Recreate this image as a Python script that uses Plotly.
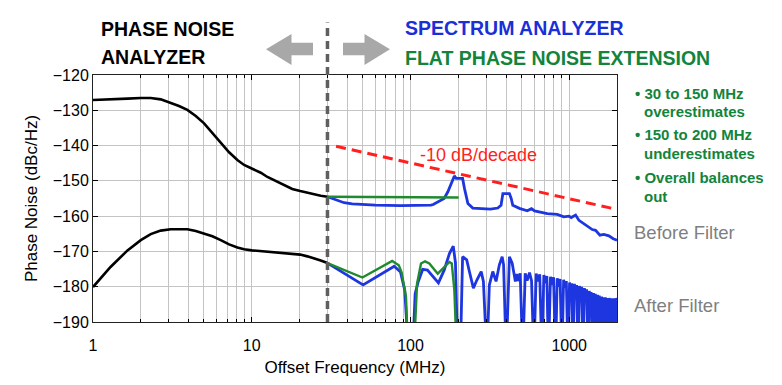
import math
import plotly.graph_objects as go

# ---------------- data ----------------
# Phase noise analyzer (black), offset frequency in MHz
pn_freq = [1.0, 1.29, 1.65, 2.0, 2.31, 2.67, 3.09, 3.48, 3.93, 4.44, 5.01, 5.65,
           6.38, 7.2, 8.12, 8.95, 10.0, 11.4, 12.55, 14.2, 16.0, 18.0, 20.2,
           22.4, 24.7, 27.2, 30.0]
pn_before = [-127.1, -127.0, -126.7, -126.5, -126.5, -126.9, -127.9, -128.8,
             -129.9, -131.6, -133.7, -136.4, -139.2, -141.9, -144.1, -145.5,
             -146.5, -147.7, -148.9, -150.1, -151.3, -152.3, -152.9, -153.4,
             -153.8, -154.2, -154.5]
pn_after = [-180.1, -174.4, -169.7, -166.8, -165.1, -164.1, -163.7, -163.6,
            -163.7, -164.2, -164.9, -165.7, -166.8, -168.0, -168.9, -169.4,
            -169.7, -169.9, -170.1, -170.3, -170.4, -170.6, -170.9, -171.4,
            -171.9, -172.6, -173.3]

# Spectrum analyzer (blue), before filter
sa_before_freq = [30, 34, 38.2, 43, 48.6, 60, 86.9, 100, 134.7, 139, 163, 172,
                  182, 189, 194, 213, 219, 230, 247, 279, 319, 355, 372, 382,
                  420, 431, 441, 486, 544, 579, 605, 727, 840, 925, 995, 1030,
                  1097, 1152, 1238, 1331, 1397, 1466, 1561, 1653, 1778, 1893,
                  2000]
sa_before = [-154.5, -155.4, -156.2, -156.5, -156.7, -156.9, -157.0, -157.0,
             -156.9, -156.7, -155.0, -153.1, -150.3, -148.6, -149.3, -149.3,
             -152.2, -156.4, -157.7, -157.8, -158.0, -157.7, -156.9, -153.6,
             -153.6, -155.0, -156.9, -157.8, -158.5, -157.9, -158.5, -159.3,
             -159.5, -160.2, -160.0, -160.4, -159.7, -161.2, -162.1, -163.1,
             -163.8, -164.0, -165.4, -165.2, -165.6, -166.4, -166.8]

# Spectrum analyzer (blue), after filter (values of -200 = deep nulls below the axis)
sa_after_freq = [30, 50.3, 79, 86.5, 92, 97.6, 103, 107, 112, 119.4, 128, 138,
                 150, 163, 176, 186, 192, 198.5, 206, 213, 226, 235, 249, 262,
                 279, 288, 303, 314, 330, 346, 363, 378, 386, 401, 420, 437,
                 458, 468, 478, 491, 510, 528, 543, 562, 579, 599, 619, 637,
                 652, 673, 692, 709, 723, 740, 762, 780, 797, 820, 840, 857,
                 876, 900, 922, 940, 959, 982, 1005, 1020, 1036, 1055, 1078,
                 1096, 1114, 1135, 1160, 1178, 1198, 1220, 1246, 1266, 1288,
                 1312, 1337, 1355, 1374, 1397, 1422, 1440, 1460, 1481, 1508,
                 1526, 1546, 1570, 1597, 1617, 1638, 1663, 1690, 1710, 1732,
                 1755, 1783, 1803, 1825, 1849, 1877, 1896, 1918, 1942, 1970,
                 2000]
sa_after = [-173.3, -179.5, -174.2, -175.8, -181.0, -200, -200, -182.0, -178.5,
            -175.1, -175.3, -177.0, -178.9, -175.3, -170.6, -168.5, -173.2,
            -200, -200, -171.5, -172.4, -175.7, -180.4, -178.1, -175.7, -178.5,
            -200, -179.5, -175.7, -178.5, -173.8, -171.5, -173.8, -200, -171.5,
            -173.3, -178.5, -176.4, -178.4, -176.2, -200, -176.2, -178.3,
            -176.0, -178.3, -200, -176.3, -178.5, -176.5, -200, -176.7, -179.0,
            -177.0, -200, -177.2, -179.5, -177.3, -200, -177.6, -180.0, -177.8,
            -200, -178.0, -180.3, -178.4, -200, -178.8, -181.0, -179.0, -200,
            -179.2, -181.5, -179.5, -200, -179.8, -182.0, -180.0, -200, -180.4,
            -182.5, -180.7, -200, -181.2, -183.2, -181.5, -200, -181.8, -183.8,
            -182.0, -200, -182.3, -184.3, -182.5, -200, -182.8, -184.8, -183.0,
            -200, -183.0, -185.0, -183.2, -200, -183.2, -185.2, -183.3, -200,
            -183.3, -185.3, -183.3, -200, -183.3, -184.0]

# Flat phase noise extension (green)
flat_before_freq = [30, 201]
flat_before = [-154.5, -154.7]
flat_after_freq = [30, 49.8, 76.7, 84.4, 88, 93.7, 96.8, 104.7, 110, 116.5,
                   123.5, 131.5, 148.5, 159.7, 176, 182, 189, 196]
flat_after = [-173.3, -177.4, -172.7, -173.9, -176.0, -182.9, -200, -200,
              -179.1, -173.4, -172.8, -173.4, -176.3, -174.9, -173.0, -173.4,
              -181.0, -200]

# -10 dB/decade reference
slope_freq = [34, 2000]
slope_db = [-140.2, -158.1]

boundary_mhz = 30
x_max = 2000

x_tickvals = [1, 10, 100, 1000]
x_ticktext = ["1", "10", "100", "1000"]
x_minor = [m * 10 ** d for d in range(0, 4) for m in range(2, 10) if m * 10 ** d < x_max]
y_tickvals = [-120, -130, -140, -150, -160, -170, -180, -190]

# ---------------- styling ----------------
FONT = "Liberation Sans, Arial, Helvetica, sans-serif"
BLACK = "#000000"
BLUE = "#1d36e0"
GREEN = "#1f8a2e"
GREEN_TXT = "#12843c"
RED = "#ff1f1f"
GRID = "#c4c4c4"

W, H = 782, 385
L, R, T, B = 93, 165, 75, 63
PW, PH = W - L - R, H - T - B


def px(xp):
    return (xp - L) / PW


def py(yp):
    return (H - B - yp) / PH


fig = go.Figure()

fig.add_trace(go.Scatter(x=pn_freq, y=pn_before, mode="lines",
                         line=dict(color=BLACK, width=2.6)))
fig.add_trace(go.Scatter(x=pn_freq, y=pn_after, mode="lines",
                         line=dict(color=BLACK, width=2.6)))
fig.add_trace(go.Scatter(x=sa_before_freq, y=sa_before, mode="lines",
                         line=dict(color=BLUE, width=2.8)))
fig.add_trace(go.Scatter(x=sa_after_freq, y=sa_after, mode="lines",
                         line=dict(color=BLUE, width=2.8)))
fig.add_trace(go.Scatter(x=flat_before_freq, y=flat_before, mode="lines",
                         line=dict(color=GREEN, width=2.4)))
fig.add_trace(go.Scatter(x=flat_after_freq, y=flat_after, mode="lines",
                         line=dict(color=GREEN, width=2.4)))
fig.add_trace(go.Scatter(x=slope_freq, y=slope_db, mode="lines",
                         line=dict(color=RED, width=3, dash="10px,6px")))

# boundary dashed line (extends above the plot)
xb = math.log10(boundary_mhz) / math.log10(x_max)
shapes = [
    dict(type="line", xref="paper", yref="paper", x0=xb, x1=xb, y0=0, y1=py(22.5),
         line=dict(color="#5f5f5f", width=3.5, dash="8px,5px"), layer="above"),
]


def arrow_path(points):
    return "M " + " L ".join(f"{px(a):.5f},{py(b):.5f}" for a, b in points) + " Z"


left_arrow = [(266, 49.3), (291.5, 34), (291.5, 42.7), (313, 42.7), (313, 55.3),
              (291.5, 55.3), (291.5, 65)]
right_arrow = [(343, 42.7), (364.5, 42.7), (364.5, 34), (390, 49.3), (364.5, 65),
               (364.5, 55.3), (343, 55.3)]
for pts in (left_arrow, right_arrow):
    shapes.append(dict(type="path", xref="paper", yref="paper", path=arrow_path(pts),
                       fillcolor="#a8a8a8", line=dict(width=0)))

ann = []


def label(text, xp, yp, size, color, bold=False, anchor="left"):
    t = f"<b>{text}</b>" if bold else text
    ann.append(dict(text=t, x=px(xp), y=py(yp), xref="paper", yref="paper",
                    xanchor=anchor, yanchor="middle", showarrow=False,
                    font=dict(family=FONT, size=size, color=color), borderpad=0))


label("PHASE NOISE", 100, 29, 19.5, BLACK, True)
label("ANALYZER", 100, 57, 19.5, BLACK, True)
label("SPECTRUM ANALYZER", 404, 28, 19.5, "#1a2fd8", True)
label("FLAT PHASE NOISE EXTENSION", 404, 58, 19.5, GREEN_TXT, True)

label("• 30 to 150 MHz", 634, 93, 15, GREEN_TXT, True)
label("overestimates", 643, 111, 15, GREEN_TXT, True)
label("• 150 to 200 MHz", 634, 134, 15, GREEN_TXT, True)
label("underestimates", 643, 153, 15, GREEN_TXT, True)
label("• Overall balances", 634, 177, 15, GREEN_TXT, True)
label("out", 643, 196, 15, GREEN_TXT, True)

label("Before Filter", 633, 232, 18.5, "#7f7f7f")
label("After Filter", 633, 305, 18.5, "#7f7f7f")

label("-10 dB/decade", 478, 155, 18, RED, anchor="center")

fig.update_layout(
    width=W, height=H,
    margin=dict(l=L, r=R, t=T, b=B, pad=0),
    paper_bgcolor="white", plot_bgcolor="white",
    showlegend=False, hovermode=False,
    font=dict(family=FONT, size=16, color=BLACK),
    shapes=shapes, annotations=ann,
    xaxis=dict(
        type="log", range=[0, math.log10(x_max)],
        tickvals=x_tickvals, ticktext=x_ticktext,
        ticks="inside", ticklen=5, tickcolor=BLACK,
        ticklabelstandoff=9,
        showgrid=True, gridcolor=GRID, gridwidth=1,
        minor=dict(tickvals=x_minor, ticks="inside", ticklen=3, tickcolor=BLACK,
                   showgrid=True, gridcolor=GRID, gridwidth=1),
        showline=True, linecolor="#222222", linewidth=1, mirror="allticks",
        zeroline=False,
        tickfont=dict(family=FONT, size=16, color=BLACK),
        title=dict(text="Offset Frequency (MHz)", standoff=7,
                   font=dict(family=FONT, size=17, color=BLACK)),
    ),
    yaxis=dict(
        range=[-190, -120], tickvals=y_tickvals,
        ticks="inside", ticklen=5, tickcolor=BLACK,
        showgrid=True, gridcolor=GRID, gridwidth=1,
        showline=True, linecolor="#222222", linewidth=1, mirror="allticks",
        zeroline=False,
        tickfont=dict(family=FONT, size=16, color=BLACK),
        title=dict(text="Phase Noise (dBc/Hz)", standoff=10,
                   font=dict(family=FONT, size=17, color=BLACK)),
    ),
)

fig.write_html("out.html",
               config={"displayModeBar": False, "staticPlot": True},
               post_script="document.body.style.margin='0';document.body.style.padding='0';")
